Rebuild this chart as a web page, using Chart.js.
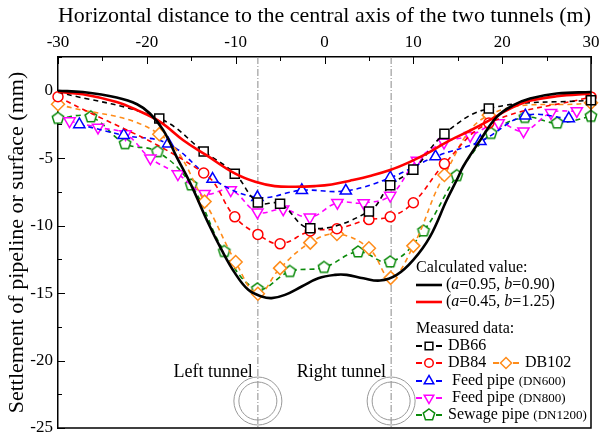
<!DOCTYPE html>
<html lang="en">
<head>
<meta charset="UTF-8">
<title>Settlement of pipelines above twin tunnels</title>
<script src="https://cdn.jsdelivr.net/npm/chart.js"></script>
<style>
  body { margin: 0; background: #fff; }
</style>
</head>
<body>
<canvas id="settleChart" width="603" height="436"></canvas>
<script>
    // x positions (m) and settlements (mm)
    const calcBlackX = [-30, -27.2, -23.4, -21.1, -19.65, -18.15, -16.65, -15.1, -13.08, -11.58, -10.08, -8.58, -7.07, -5.95, -4.45, -2.57, -0.7, 1.18, 2.5, 4.37, 6.25, 8.13, 10.0, 11.88, 13.76, 14.9, 15.63, 17.5, 19.4, 21.27, 23.14, 26.15, 30];
    const calcBlackY = [0, -0.1, -0.5, -1.0, -1.69, -2.92, -4.9, -6.87, -9.82, -11.8, -13.52, -14.76, -15.25, -15.37, -15.13, -14.51, -13.9, -13.65, -13.65, -13.9, -14.07, -13.65, -12.54, -10.81, -8.1, -6.6, -5.6, -3.7, -1.94, -1.07, -0.58, -0.21, -0.09];
    const calcRedX = [-30, -27.2, -23.4, -21.1, -18.5, -15.9, -13.3, -10.1, -7.8, -5.6, -3.3, -1.07, 0.8, 2.87, 5.12, 7.38, 9.63, 11.88, 13.9, 16.4, 18.6, 20.9, 23.1, 26.15, 30];
    const calcRedY = [-0.09, -0.26, -0.83, -1.44, -2.31, -3.67, -4.78, -6.13, -6.75, -7.07, -7.12, -7.07, -6.95, -6.67, -6.32, -5.88, -5.27, -4.53, -3.75, -2.95, -2.18, -1.32, -0.75, -0.41, -0.21];

    const db66X = [-30, -18.6, -13.6, -10.1, -7.5, -5.0, -1.6, 5.0, 7.4, 10.0, 13.5, 18.5, 30];
    const db66Y = [-0.1, -2.06, -4.5, -6.15, -8.28, -8.38, -10.2, -8.95, -7.0, -5.85, -3.2, -1.32, -0.7];
    const db84X = [-30, -13.6, -10.1, -7.5, -5.0, -1.6, 1.4, 5.0, 7.4, 10.0, 13.5, 18.5, 30];
    const db84Y = [-0.45, -6.1, -9.35, -10.65, -11.35, -10.4, -10.23, -9.55, -9.35, -8.3, -5.42, -2.4, -0.46];
    const db102X = [-30, -18.6, -13.5, -10.0, -7.5, -5.0, -1.6, 1.4, 5.0, 7.45, 10.0, 13.5, 18.5, 30];
    const db102Y = [-1.0, -3.22, -8.22, -12.7, -15.05, -13.15, -11.26, -10.62, -11.68, -13.87, -11.5, -6.25, -1.81, -0.9];
    const dn600X = [-27.6, -22.6, -17.6, -12.6, -7.55, -2.55, 2.4, 7.4, 12.5, 17.55, 22.6, 27.5];
    const dn600Y = [-2.5, -3.3, -3.93, -6.55, -7.9, -7.38, -7.42, -6.45, -4.88, -3.75, -1.85, -2.06];
    const dn800X = [-28.7, -25.5, -22.4, -19.6, -16.5, -13.5, -10.55, -7.55, -4.65, -1.65, 1.45, 4.4, 7.4, 10.4, 13.45, 16.4, 19.6, 22.4, 25.5, 28.4];
    const dn800Y = [-2.25, -2.72, -3.2, -5.0, -6.18, -7.63, -7.36, -9.0, -8.78, -9.38, -8.3, -8.32, -7.77, -5.17, -3.83, -3.33, -2.4, -3.0, -1.64, -1.5];
    const dn1200X = [-30, -26.3, -22.45, -18.8, -15.0, -11.28, -7.55, -3.9, -0.05, 3.78, 7.4, 11.15, 14.9, 18.75, 22.55, 26.2, 30];
    const dn1200Y = [-2.05, -1.94, -3.93, -4.52, -6.99, -11.92, -14.7, -13.4, -13.1, -11.95, -12.7, -10.4, -6.3, -3.17, -1.98, -2.4, -1.9];

    const tunnelX = [-7.5, 7.5];       // tunnel centre lines (m)
    const tunnelNames = ['Left tunnel', 'Right tunnel'];
    const tunnelDepthY = -23;          // where the tunnel rings sit on the y scale

    const FONT = '"Liberation Serif", "Times New Roman", serif';
    Chart.defaults.font.family = FONT;
    Chart.defaults.color = '#000';

    function pts(xs, ys) {
        return xs.map((x, i) => ({ x: x, y: ys[i] }));
    }

    // pentagon marker, Chart.js has no built-in one
    function makePentagon(color, r) {
        const c = document.createElement('canvas');
        c.width = c.height = Math.ceil(r * 2 + 4);
        const g = c.getContext('2d');
        const m = c.width / 2;
        g.beginPath();
        for (let i = 0; i < 5; i++) {
            const a = -Math.PI / 2 + i * 2 * Math.PI / 5;
            const px = m + r * Math.cos(a), py = m + r * Math.sin(a);
            if (i === 0) g.moveTo(px, py); else g.lineTo(px, py);
        }
        g.closePath();
        g.fillStyle = '#fff';
        g.fill();
        g.lineWidth = 1.5;
        g.strokeStyle = color;
        g.stroke();
        return c;
    }

    const ORANGE = '#ff8c1a';
    const GREEN = '#0a8a0a';
    const pentagon = makePentagon(GREEN, 6);

    function measured(label, xs, ys, color, style, radius, rotation) {
        return {
            label: label,
            data: pts(xs, ys),
            borderColor: color,
            borderWidth: 1.6,
            borderDash: [5, 4],
            pointStyle: style,
            pointRadius: radius,
            pointRotation: rotation || 0,
            pointBorderColor: color,
            pointBorderWidth: 1.5,
            pointBackgroundColor: '#fff',
            tension: 0.4,
            clip: false
        };
    }

    const db66 = measured('DB66', db66X, db66Y, '#000', 'rect', 6.4);
    db66.pointRadius = db66X.map((x, i) => i === 0 ? 0 : 6.4);

    const datasets = [
        { label: 'calc1', data: pts(calcBlackX, calcBlackY), borderColor: '#000', borderWidth: 2.6, pointRadius: 0, tension: 0.4, clip: false },
        { label: 'calc2', data: pts(calcRedX, calcRedY), borderColor: '#ff0000', borderWidth: 2.6, pointRadius: 0, tension: 0.4, clip: false },
        db66,
        measured('DB84', db84X, db84Y, '#ff0000', 'circle', 5),
        measured('DB102', db102X, db102Y, ORANGE, 'rectRot', 6.5),
        measured('DN600', dn600X, dn600Y, '#0000ff', 'triangle', 6.5),
        measured('DN800', dn800X, dn800Y, '#ff00ff', 'triangle', 6.5, 180),
        measured('DN1200', dn1200X, dn1200Y, GREEN, pentagon, 6)
    ];

    // marker for the hand-drawn legend
    function drawMarker(ctx, style, x, y, r, rot, color) {
        if (typeof style === 'object') {
            ctx.drawImage(style, x - style.width / 2, y - style.height / 2);
            return;
        }
        ctx.save();
        ctx.strokeStyle = color;
        ctx.fillStyle = '#fff';
        ctx.lineWidth = 1.5;
        ctx.beginPath();
        if (style === 'circle') {
            ctx.arc(x, y, r, 0, Math.PI * 2);
        } else if (style === 'rect') {
            const s = r * Math.SQRT1_2;
            ctx.rect(x - s, y - s, 2 * s, 2 * s);
        } else if (style === 'rectRot') {
            ctx.moveTo(x, y - r); ctx.lineTo(x + r, y); ctx.lineTo(x, y + r); ctx.lineTo(x - r, y);
            ctx.closePath();
        } else if (style === 'triangle') {
            let a = (rot || 0) * Math.PI / 180;
            for (let i = 0; i < 3; i++) {
                const px = x + Math.sin(a) * r, py = y - Math.cos(a) * r;
                if (i === 0) ctx.moveTo(px, py); else ctx.lineTo(px, py);
                a += 2 * Math.PI / 3;
            }
            ctx.closePath();
        }
        ctx.fill();
        ctx.stroke();
        ctx.restore();
    }

    // text with italic pieces, parts = [[text, italic], ...]
    function richText(ctx, parts, x, y, size) {
        parts.forEach(p => {
            ctx.font = (p[1] ? 'italic ' : '') + size + 'px ' + FONT;
            ctx.fillText(p[0], x, y);
            x += ctx.measureText(p[0]).width;
        });
        return x;
    }

    function drawLegend(chart) {
        const ctx = chart.ctx;
        const x0 = 416;
        ctx.save();
        ctx.fillStyle = '#000';
        ctx.textBaseline = 'middle';
        ctx.textAlign = 'left';
        ctx.font = '16px ' + FONT;
        ctx.fillText('Calculated value:', x0, 268);

        const calcRows = [
            { ds: 0, y: 285, parts: [['(', 0], ['a', 1], ['=0.95, ', 0], ['b', 1], ['=0.90)', 0]] },
            { ds: 1, y: 302, parts: [['(', 0], ['a', 1], ['=0.45, ', 0], ['b', 1], ['=1.25)', 0]] }
        ];
        calcRows.forEach(r => {
            ctx.strokeStyle = datasets[r.ds].borderColor;
            ctx.lineWidth = 2.6;
            ctx.beginPath();
            ctx.moveTo(x0, r.y);
            ctx.lineTo(x0 + 26, r.y);
            ctx.stroke();
            richText(ctx, r.parts, x0 + 30, r.y, 16);
        });

        ctx.font = '16px ' + FONT;
        ctx.fillText('Measured data:', x0, 329);

        const rows = [
            { ds: 2, x: x0, y: 346, text: 'DB66', small: '' },
            { ds: 3, x: x0, y: 363, text: 'DB84', small: '' },
            { ds: 4, x: 493, y: 363, text: 'DB102', small: '' },
            { ds: 5, x: x0, y: 381, text: ' Feed pipe ', small: '(DN600)' },
            { ds: 6, x: x0, y: 398, text: ' Feed pipe ', small: '(DN800)' },
            { ds: 7, x: x0, y: 415, text: 'Sewage pipe ', small: '(DN1200)' }
        ];
        rows.forEach(r => {
            const d = datasets[r.ds];
            ctx.strokeStyle = d.borderColor;
            ctx.lineWidth = 1.8;
            ctx.beginPath();
            ctx.moveTo(r.x, r.y); ctx.lineTo(r.x + 6, r.y);
            ctx.moveTo(r.x + 20, r.y); ctx.lineTo(r.x + 26, r.y);
            ctx.stroke();
            const rad = Array.isArray(d.pointRadius) ? d.pointRadius[1] : d.pointRadius;
            drawMarker(ctx, d.pointStyle, r.x + 13, r.y, rad * 0.85, d.pointRotation, d.borderColor);
            ctx.fillStyle = '#000';
            ctx.font = '16px ' + FONT;
            ctx.fillText(r.text, r.x + 32, r.y);
            if (r.small) {
                const w = ctx.measureText(r.text).width;
                ctx.font = '13px ' + FONT;
                ctx.fillText(r.small, r.x + 32 + w, r.y + 1);
            }
        });
        ctx.restore();
    }

    const decor = {
        id: 'decor',
        beforeDatasetsDraw(chart) {
            const ctx = chart.ctx;
            const area = chart.chartArea;
            const xs = chart.scales.x, ys = chart.scales.y;
            ctx.save();
            tunnelX.forEach((tx, i) => {
                const px = xs.getPixelForValue(tx);
                // dash-dot centre line
                ctx.strokeStyle = '#8a8a8a';
                ctx.lineWidth = 1;
                ctx.setLineDash([7, 2, 1, 2]);
                ctx.beginPath();
                ctx.moveTo(px, area.top);
                ctx.lineTo(px, area.bottom);
                ctx.stroke();
                ctx.setLineDash([]);
                // tunnel ring
                const py = ys.getPixelForValue(tunnelDepthY);
                ctx.strokeStyle = '#999';
                [24, 19].forEach(r => {
                    ctx.beginPath();
                    ctx.arc(px, py, r, 0, Math.PI * 2);
                    ctx.stroke();
                });
                ctx.fillStyle = '#000';
                ctx.font = '18px ' + FONT;
                ctx.textAlign = 'right';
                ctx.textBaseline = 'middle';
                ctx.fillText(tunnelNames[i], px - 5, py - 29);
            });
            ctx.restore();
        },
        afterDraw(chart) {
            const ctx = chart.ctx;
            const area = chart.chartArea;
            const xs = chart.scales.x, ys = chart.scales.y;
            ctx.save();
            ctx.strokeStyle = '#000';
            ctx.lineWidth = 1;
            ctx.beginPath();
            // inward tick marks
            xs.ticks.forEach(t => {
                const px = Math.round(xs.getPixelForValue(t.value)) + 0.5;
                const len = t.value % 10 === 0 ? 7 : 4;
                ctx.moveTo(px, area.top);
                ctx.lineTo(px, area.top + len);
            });
            ys.ticks.forEach(t => {
                const py = Math.round(ys.getPixelForValue(t.value)) + 0.5;
                const len = t.value % 5 === 0 ? 7 : 4;
                ctx.moveTo(area.left, py);
                ctx.lineTo(area.left + len, py);
            });
            ctx.stroke();
            // right and bottom frame
            ctx.lineWidth = 1.5;
            ctx.beginPath();
            ctx.moveTo(area.left, area.bottom);
            ctx.lineTo(area.right, area.bottom);
            ctx.lineTo(area.right, area.top);
            ctx.stroke();
            ctx.restore();
            drawLegend(chart);
        }
    };

    const ctx = document.getElementById('settleChart').getContext('2d');
    const settleChart = new Chart(ctx, {
        type: 'line',
        data: { datasets: datasets },
        options: {
            responsive: false,
            animation: false,
            layout: { padding: { left: 0, right: 12, top: 0, bottom: 8 } },
            plugins: {
                legend: { display: false },
                tooltip: { enabled: false }
            },
            scales: {
                x: {
                    type: 'linear',
                    position: 'top',
                    min: -30,
                    max: 30,
                    afterFit: s => { s.height = 57; s.paddingLeft = 0; s.paddingRight = 0; },
                    grid: { drawOnChartArea: false, drawTicks: false },
                    border: { color: '#000', width: 1.5 },
                    ticks: {
                        stepSize: 5,
                        autoSkip: false,
                        maxRotation: 0,
                        padding: 4,
                        font: { size: 17 },
                        callback: v => (v % 10 === 0 ? v : '')
                    },
                    title: {
                        display: true,
                        text: 'Horizontal distance to the central axis of the two tunnels (m)',
                        font: { size: 22 },
                        padding: { top: 3, bottom: 0 }
                    }
                },
                y: {
                    type: 'linear',
                    min: -25,
                    max: 2.5,
                    afterFit: s => { s.width = 58; s.paddingTop = 0; s.paddingBottom = 0; },
                    grid: { drawOnChartArea: false, drawTicks: false },
                    border: { color: '#000', width: 1.5 },
                    ticks: {
                        stepSize: 2.5,
                        autoSkip: false,
                        padding: 5,
                        font: { size: 17 },
                        callback: v => (v % 5 === 0 ? v : '')
                    },
                    title: {
                        display: true,
                        text: 'Settlement of pipeline or surface (mm)',
                        font: { size: 22 },
                        padding: { top: 4, bottom: 0 }
                    }
                }
            }
        },
        plugins: [decor]
    });
</script>
</body>
</html>
